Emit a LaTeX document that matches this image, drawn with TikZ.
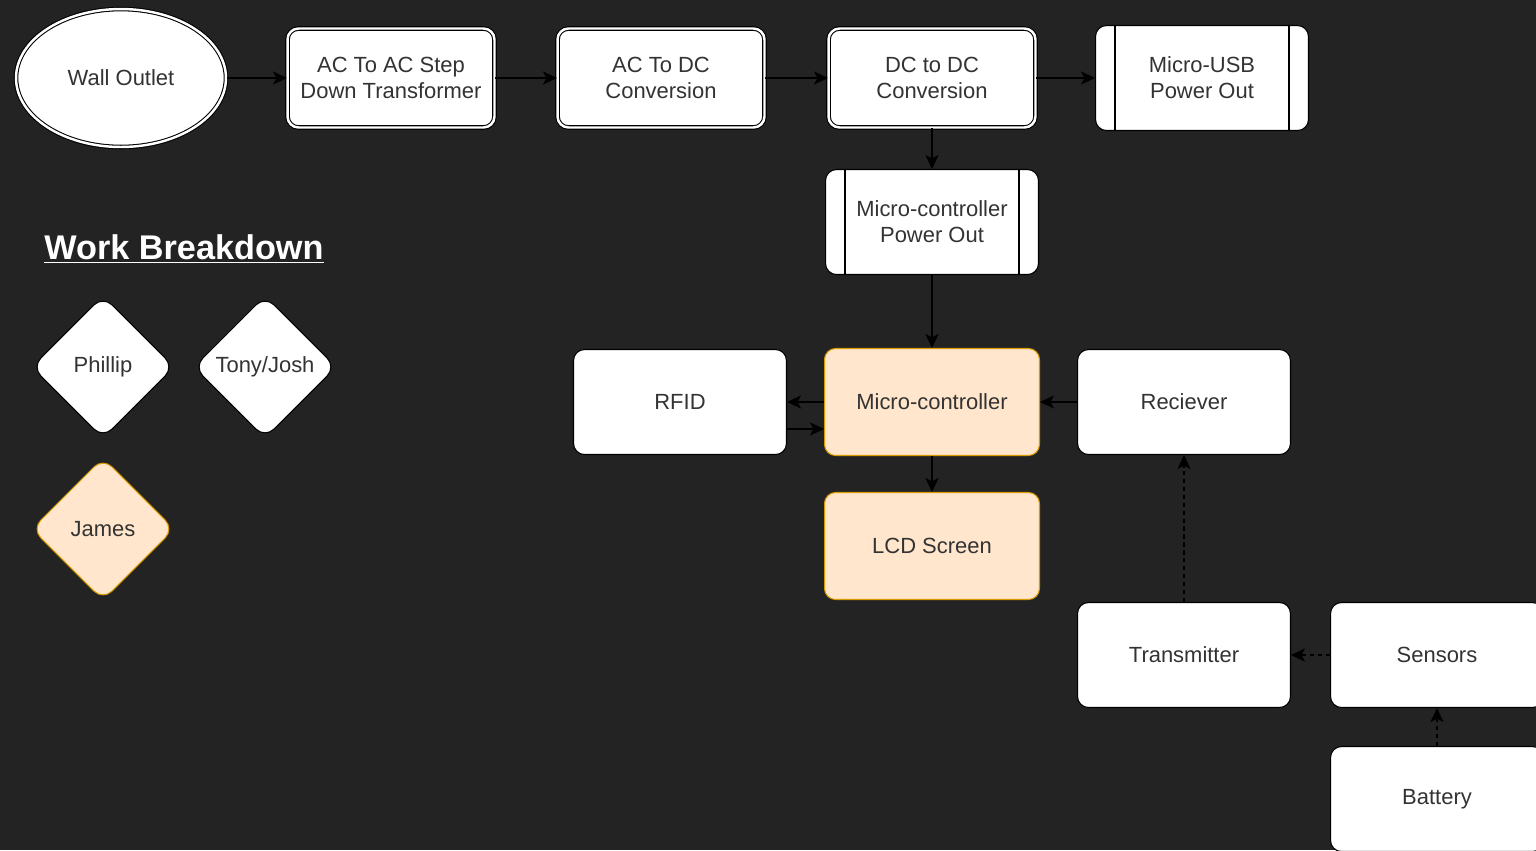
\documentclass[tikz,border=0pt]{standalone}
\usepackage{fontspec}
\setmainfont{Liberation Sans}
\usetikzlibrary{shapes.geometric, arrows.meta}

\definecolor{bgdark}{HTML}{232323}
\definecolor{txtgray}{HTML}{333333}
\definecolor{peach}{HTML}{FFE6CC}
\definecolor{amber}{HTML}{D79B00}

\tikzset{
  block/.style={rectangle, rounded corners=0.22cm, draw=black, fill=white, line width=0.6pt,
    minimum width=4.26cm, minimum height=2.1cm, align=center, text=txtgray,
    font=\fontsize{12.5}{14.8}\selectfont},
  dblock/.style={block, double=white, double distance=1.4pt, minimum width=4.14cm, minimum height=1.98cm},
  hot/.style={block, fill=peach, draw=amber, minimum width=4.3cm, minimum height=2.14cm},
  member/.style={diamond, aspect=1, minimum width=2.85cm, minimum height=2.85cm, inner sep=0pt,
    rounded corners=0.25cm, draw=black, fill=white, line width=0.6pt, text=txtgray,
    font=\fontsize{12.5}{14.8}\selectfont},
  wire/.style={->, line width=0.6pt, black},
  dwire/.style={wire, dash pattern=on 2.5pt off 2pt}
}

\begin{document}
\begin{tikzpicture}[x=0.02cm, y=-0.02cm, >={Stealth[length=8pt, width=7.5pt, inset=2pt]}]
                % Canvas
                \useasboundingbox (0,0) rectangle (1536,850);
                \clip (0,0) rectangle (1536,850);
                \fill[bgdark] (0,0) rectangle (1536,850);

                % Power chain
                \node[ellipse, draw=black, fill=white, double=white, double distance=1.4pt, line width=0.6pt,
                    minimum width=4.2cm, minimum height=2.76cm, text=txtgray,
                    font=\fontsize{12.5}{14.8}\selectfont] (wall) at (121,78) {Wall Outlet};
                \node[dblock] (acac) at (391,78) {AC To AC Step\\Down Transformer};
                \node[dblock] (acdc) at (661,78) {AC To DC\\Conversion};
                \node[dblock] (dcdc) at (932,78) {DC to DC\\Conversion};
                \node[block] (usb) at (1202,78) {Micro-USB\\Power Out};
                \node[block] (mcpow) at (932,222) {Micro-controller\\Power Out};

                % Process bars
                \foreach \n in {usb, mcpow} {
                        \draw[line width=0.6pt] ([xshift=0.4cm]\n.north west) -- ([xshift=0.4cm]\n.south west);
                        \draw[line width=0.6pt] ([xshift=-0.4cm]\n.north east) -- ([xshift=-0.4cm]\n.south east);
                    }

                % Controller group
                \node[hot] (mcu) at (932,402) {Micro-controller};
                \node[block] (rfid) at (680,402) {RFID};
                \node[block] (recv) at (1184,402) {Reciever};
                \node[hot] (lcd) at (932,546) {LCD Screen};

                % Sensor side
                \node[block] (tx) at (1184,655) {Transmitter};
                \node[block] (sens) at (1437,655) {Sensors};
                \node[block] (batt) at (1437,799) {Battery};

                % Work breakdown
                \node[text=white, font=\fontsize{19.5}{22}\selectfont\bfseries] (title) at (184,249) {\underline{Work Breakdown}};
                \node[member] (phil) at (103,367) {Phillip};
                \node[member] (tony) at (265,367) {Tony/Josh};
                \node[member, fill=peach, draw=amber] (james) at (103,529) {James};

                % Arrows
                \foreach \a/\b in {wall/acac, acac/acdc, acdc/dcdc, dcdc/usb} {
                        \draw[wire] (\a) -- (\b);
                    }
                \draw[wire] (dcdc) -- (mcpow);
                \draw[wire] (mcpow) -- (mcu);
                \draw[wire] (mcu) -- (rfid);
                \draw[wire] ([yshift=-0.54cm]rfid.east) -- ([yshift=-0.54cm]mcu.west);
                \draw[wire] (recv) -- (mcu);
                \draw[wire] (mcu) -- (lcd);
                \draw[dwire] (tx) -- (recv);
                \draw[dwire] (sens) -- (tx);
                \draw[dwire] (batt) -- (sens);
            \end{tikzpicture}
\end{document}
